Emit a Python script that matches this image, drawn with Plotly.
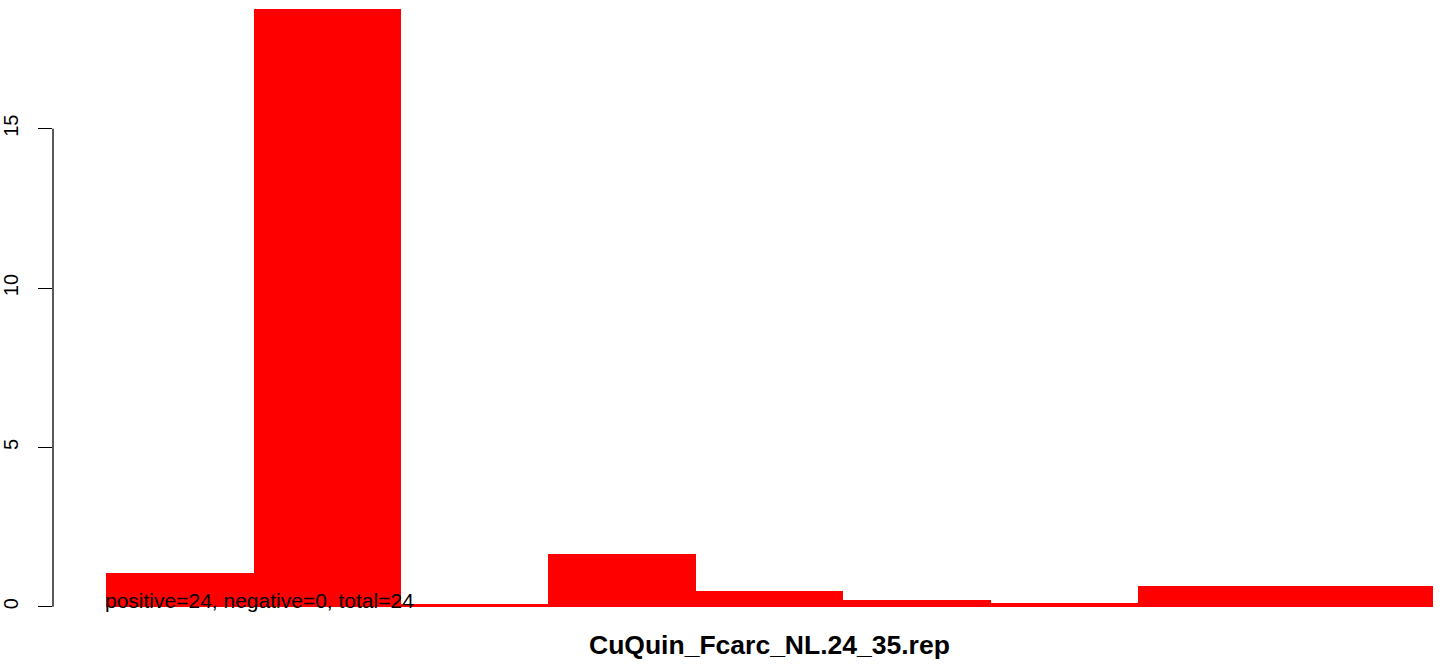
import numpy as np
import plotly.graph_objects as go

# Bin counts of the repeat report, one bar per bin
bins = ["1", "2", "3", "4", "5", "6", "7", "8", "9"]
values = [1.06, 18.75, 0.085, 1.65, 0.49, 0.21, 0.125, 0.65, 0.65]
y_ticks = [0, 5, 10, 15]
summary_text = "positive=24, negative=0, total=24"
x_title = "CuQuin_Fcarc_NL.24_35.rep"

FONT = "Liberation Sans, Arial, Helvetica, sans-serif"

x_pos = np.arange(len(values)) + 0.5

fig = go.Figure()
fig.add_trace(go.Bar(
    x=x_pos,
    y=values,
    width=1.0,
    marker=dict(color="#FF0000", line=dict(width=0)),
    hovertext=bins,
    showlegend=False,
))

# y axis line spans only the tick range, as in base graphics
fig.add_shape(type="line", xref="paper", yref="y",
              x0=0, x1=0, y0=y_ticks[0], y1=y_ticks[-1],
              line=dict(color="black", width=1.3))

fig.add_annotation(
    x=0, y=0, xref="x", yref="y",
    text=summary_text, showarrow=False,
    xanchor="left", yanchor="bottom", yshift=-7, xshift=-3,
    font=dict(family=FONT, size=21, color="black"),
)

fig.add_annotation(
    x=0.511, y=-0.0235, xref="paper", yref="paper",
    text="<b>" + x_title + "</b>", showarrow=False,
    xanchor="center", yanchor="middle",
    font=dict(family=FONT, size=26.5, color="black"),
)

fig.update_layout(
    width=1455, height=664,
    margin=dict(l=51, r=0, t=0, b=34, pad=0),
    paper_bgcolor="white", plot_bgcolor="white",
    bargap=0,
    xaxis=dict(range=[-0.36, 9.15], showticklabels=False, ticks="",
               showgrid=False, zeroline=False, showline=False),
    yaxis=dict(range=[-0.731, 19.037], tickvals=y_ticks,
               ticktext=[str(v) for v in y_ticks],
               ticks="outside", ticklen=14, tickwidth=1.3, tickcolor="black",
               tickangle=-90, ticklabelstandoff=12,
               tickfont=dict(family=FONT, size=20, color="black"),
               showgrid=False, zeroline=False, showline=False),
)

fig.write_html("out.html")
